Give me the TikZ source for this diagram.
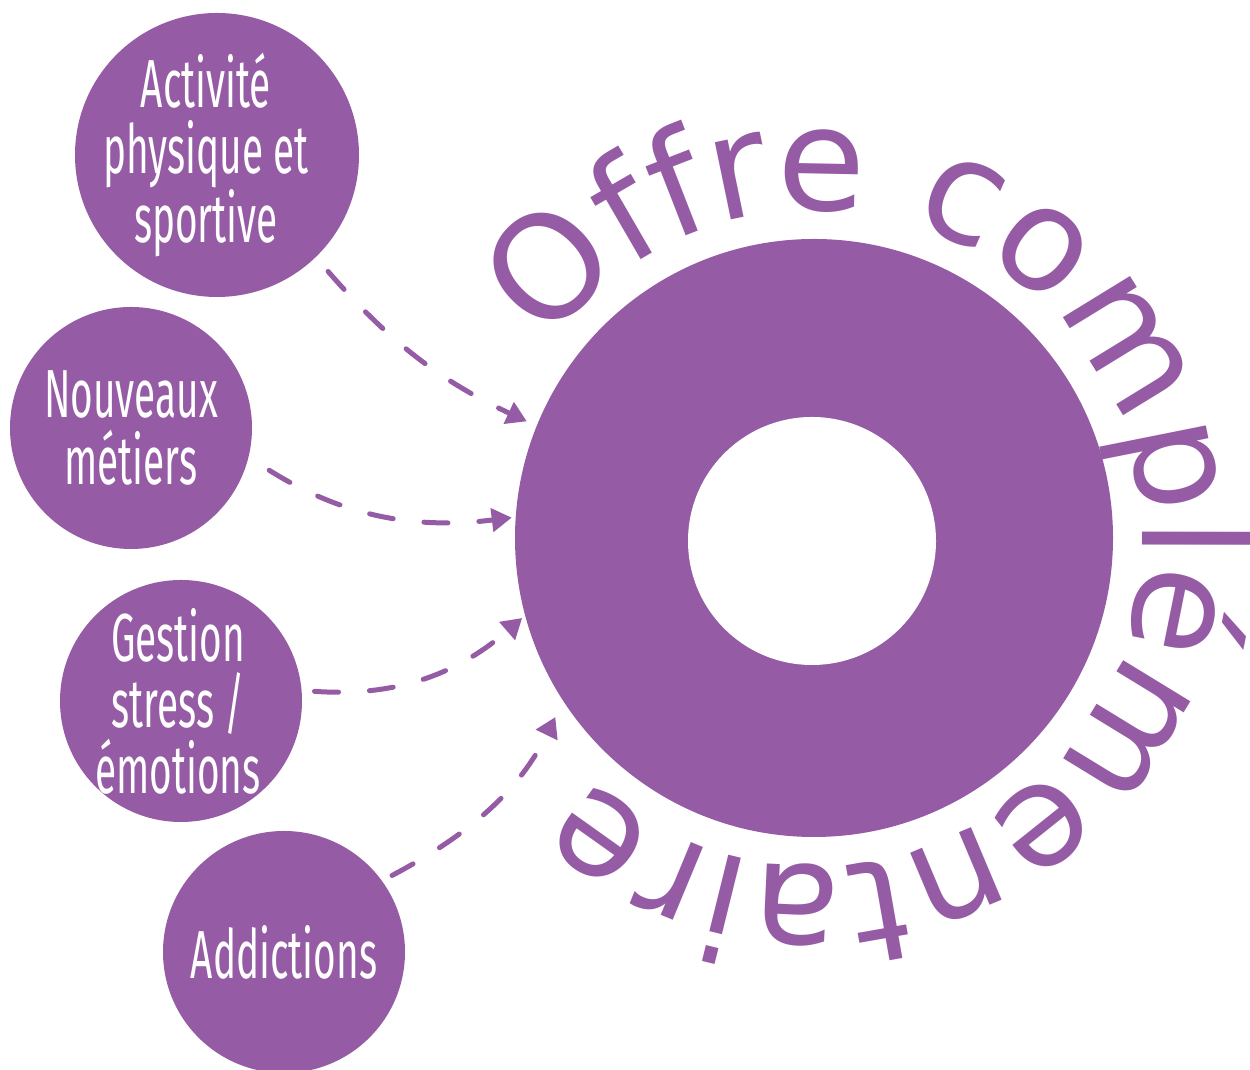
\documentclass[tikz,border=0pt]{standalone}
\usepackage{fontspec}
\usetikzlibrary{arrows.meta,decorations.text}

\newfontfamily\bubblefont[FakeStretch=0.57]{Fira Sans}
\newfontfamily\ringfont{DejaVu Sans}
\definecolor{offre}{RGB}{149,91,165}

\begin{document}
\begin{tikzpicture}
	[bubble/.style		={circle
									, fill=offre
									, inner sep=0pt
									, outer sep=0pt
									, minimum size=4.84cm
									},
		bubbletext/.style	={text=white
									, align=center
									, font=\bubblefont\fontsize{38.7}{37.6}\selectfont
									},
		ring/.style			={circle
									, fill=offre
									, inner sep=0pt
									, outer sep=0pt
									, minimum size=11.96cm
									},
		hole/.style			={circle
									, fill=white
									, inner sep=0pt
									, minimum size=4.96cm
									},
		link/.style			={draw
									, color=offre
									, line width=0.1cm
									, line cap=round
									, dash pattern=on 0.48cm off 0.62cm
									, -{Triangle[length=0.4cm,width=0.46cm]}
									}
	]
\useasboundingbox (0,0) rectangle (25,21.4);

% centre ring
\node [ring] (ring) at (16.28,10.64) {};
\node [hole] (hole) at (16.24,10.58) {};

% bubbles
\node [bubble, minimum size=5.68cm] (activite) at (4.34,18.30) {};
\node [bubble] (metiers) at (2.62,12.84) {};
\node [bubble] (stress)  at (3.62,7.38) {};
\node [bubble] (addict)  at (5.68,2.36) {};

\node [bubbletext] (activite text) at ([xshift=-0.22cm]activite) {Activité\\physique et\\sportive};
\node [bubbletext] (metiers text)  at (metiers)  {Nouveaux\\métiers};
\node [bubbletext] (stress text)   at ([xshift=-0.06cm]stress)   {Gestion\\stress /\\émotions};
\node [bubbletext] (addict text)   at (addict)   {Addictions};

% curved title
\path [decorate,
			decoration={text along path
								, text align=center
								, text color=offre
								, text={|\ringfont\fontsize{82}{82}\selectfont|Offre complémentaire}
								}]
	([shift={(145.6:6.56)}]ring.center) arc [start angle=145.6, end angle=-134.4, radius=6.56];

% dashed links
\begin{scope}[every path/.style=link]
	\path [shorten <=0.38cm, shorten >=0.22cm] (activite.-46) to [out=-49, in=155] (ring.158.6);
	\path [shorten <=0.49cm, shorten >=0.08cm] (metiers.-14.4) to [out=-32, in=187] (ring.176);
	\path [shorten <=0.26cm, shorten >=0.08cm] (stress.5.2)    to [out=-4, in=221]  (ring.195.5);
	\path [shorten <=0.23cm, shorten >=0.36cm] (addict.36.3)   to [out=28, in=244]  (ring.213.5);
\end{scope}
\end{tikzpicture}
\end{document}
